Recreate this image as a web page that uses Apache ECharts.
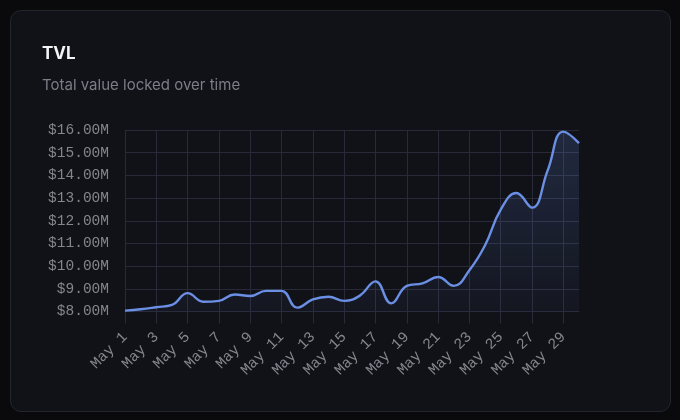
<!DOCTYPE html>
<html>
<head>
<meta charset="utf-8">
<script src="https://cdn.jsdelivr.net/npm/echarts@6/dist/echarts.min.js"></script>
<style>
  html, body { margin:0; padding:0; background:#0a0a0c; width:680px; height:420px; overflow:hidden; }
  #card { position:absolute; left:10px; top:10px; width:659px; height:400px; background:#111218; border:1px solid #23252e; border-radius:11px; }
  #chart { position:absolute; left:0; top:0; width:680px; height:420px; }
</style>
</head>
<body>
<div id="card"></div>
<div id="chart"></div>
<script>
const categories = ['May 1','May 2','May 3','May 4','May 5','May 6','May 7','May 8','May 9','May 10',
  'May 11','May 12','May 13','May 14','May 15','May 16','May 17','May 18','May 19','May 20',
  'May 21','May 22','May 23','May 24','May 25','May 26','May 27','May 28','May 29','May 30'];
const tvl = [8.04, 8.10, 8.19, 8.29, 8.81, 8.43, 8.47, 8.75, 8.68, 8.91,
  8.91, 8.17, 8.53, 8.65, 8.47, 8.70, 9.33, 8.36, 9.13, 9.24,
  9.52, 9.13, 9.82, 10.92, 12.49, 13.22, 12.58, 14.22, 15.93, 15.42];
const yMin = 8, yMax = 16, yStep = 1;

const chart = echarts.init(document.getElementById('chart'), null, {renderer:'canvas'});
const gridColor = '#282a39';
const mono = '"Liberation Mono", "DejaVu Sans Mono", monospace';
chart.setOption({
  backgroundColor: 'transparent',
  title: {
    text: 'TVL',
    subtext: 'Total value locked over time',
    left: 42, top: 45, padding: 0,
    itemGap: 16,
    textStyle: { color:'#f4f4f6', fontSize:17, fontWeight:'bold', fontFamily:'Inter, "Noto Sans", sans-serif' },
    subtextStyle: { color:'#7b7e87', fontSize:15, fontFamily:'Inter, "Noto Sans", sans-serif' }
  },
  grid: { left:125, right:101, top:130, bottom:108.5, containLabel:false },
  xAxis: {
    type:'category',
    data: categories,
    boundaryGap:false,
    axisLine: { show:true, lineStyle:{ color:gridColor } },
    axisTick: { show:true, interval:1, length:12, lineStyle:{ color:gridColor } },
    axisLabel: { interval:1, rotate:45, margin:23, color:'#83868d', fontSize:15, fontFamily:mono },
    splitLine: { show:true, interval:1, lineStyle:{ color:gridColor, width:1 } }
  },
  yAxis: {
    type:'value',
    min:yMin, max:yMax, interval:yStep,
    axisLine:{ show:false },
    axisTick:{ show:false },
    axisLabel: { margin:16, color:'#83868d', fontSize:14.5, fontFamily:mono,
      formatter: v => '$' + v.toFixed(2) + 'M' },
    splitLine: { show:true, lineStyle:{ color:gridColor, width:1 } }
  },
  series: [{
    type:'line',
    data: tvl,
    smooth: 0.45,
    showSymbol:false,
    lineStyle:{ color:'#6b8fe4', width:2.4 },
    itemStyle:{ color:'#6b8fe4' },
    areaStyle:{
      color: new echarts.graphic.LinearGradient(0,0,0,1,[
        {offset:0, color:'rgba(100,140,228,0.28)'},
        {offset:1, color:'rgba(100,140,228,0.06)'}
      ])
    },
    animation:false
  }],
  animation:false
});
</script>
</body>
</html>
